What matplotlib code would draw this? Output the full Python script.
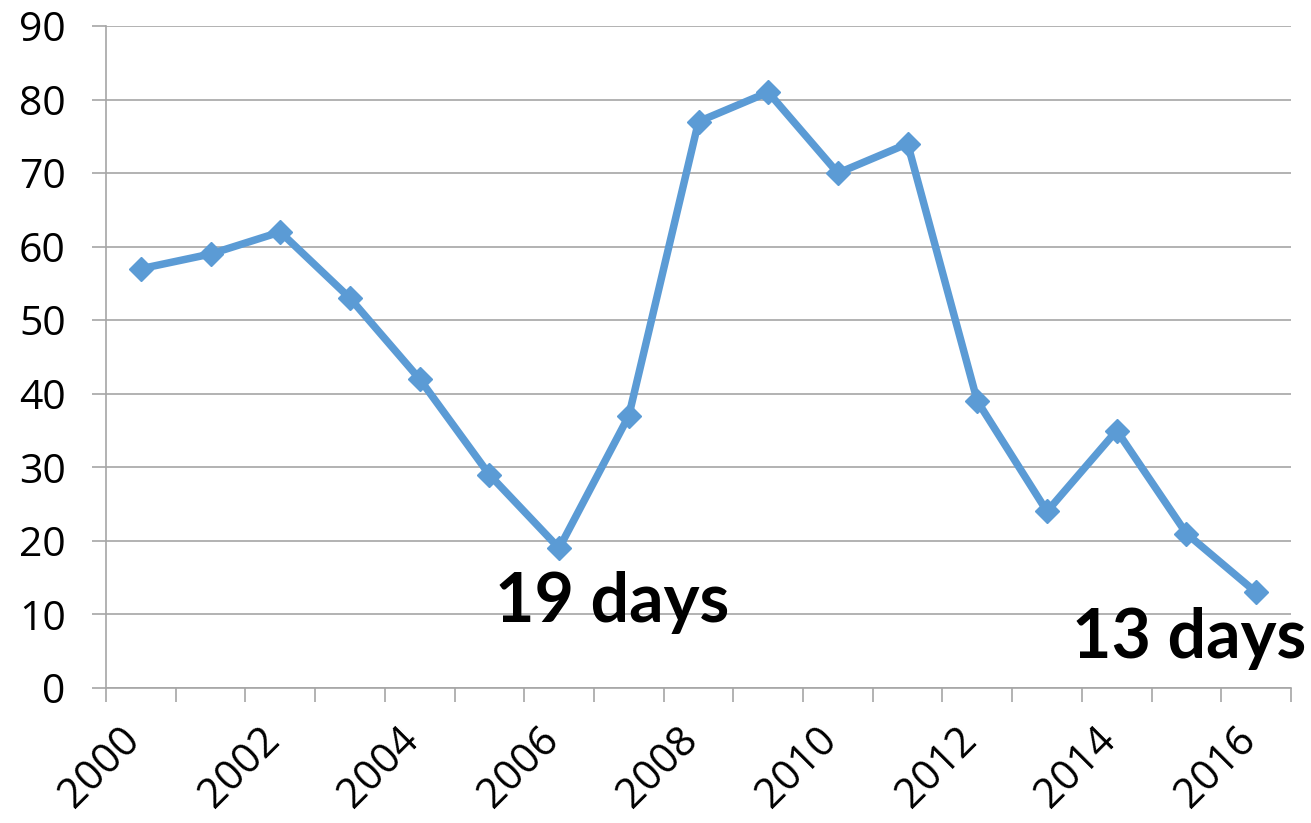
import matplotlib

matplotlib.use("Agg")
import matplotlib.pyplot as plt
import matplotlib.transforms as mtransforms
import numpy as np

# Days per year
years = list(range(2000, 2017))
days = [57, 59, 62, 53, 42, 29, 19, 37, 77, 81, 70, 74, 39, 24, 35, 21, 13]
y_ticks = list(range(0, 100, 10))

LINE_BLUE = "#5B9BD5"
GRID_GREY = "#A6A6A6"

fig = plt.figure(figsize=(13.11, 8.23), dpi=100)
ax = fig.add_axes([106 / 1311, 1 - 688 / 823, (1291 - 106) / 1311, (688 - 26) / 823])

x = np.arange(len(years))
ax.plot(x, days, color=LINE_BLUE, linewidth=5.4, marker="D", markersize=12,
        solid_joinstyle="miter", zorder=3)

ax.set_xlim(-0.5, len(years) - 0.5)
ax.set_ylim(0, 90)

# Category axis: tick marks between categories, labels every other year
ax.set_xticks(np.arange(-0.5, len(years)), labels=[])
ax.set_xticks(x[::2], labels=[str(y) for y in years[::2]], minor=True)
ax.tick_params(axis="x", which="major", length=10, width=1.2, color=GRID_GREY,
               direction="out")
ax.tick_params(axis="x", which="minor", length=0, pad=22)
shift = mtransforms.ScaledTranslation(8 / 100, 0, fig.dpi_scale_trans)
for lbl in ax.get_xticklabels(minor=True):
    lbl.set_rotation(45)
    lbl.set_ha("right")
    lbl.set_fontsize(30)
    lbl.set_family("Open Sans")
    lbl.set_transform(lbl.get_transform() + shift)

ax.set_yticks(y_ticks)
ax.tick_params(axis="y", length=10, width=1.2, color=GRID_GREY, pad=19,
               labelsize=29.5)
for lbl in ax.get_yticklabels():
    lbl.set_family("Open Sans")

ax.grid(axis="y", color=GRID_GREY, linewidth=1.2)
ax.set_axisbelow(True)
for side in ("top", "right"):
    ax.spines[side].set_visible(False)
for side in ("left", "bottom"):
    ax.spines[side].set_color(GRID_GREY)
    ax.spines[side].set_linewidth(1.2)

ax.annotate("19 days", xy=(6, 19), xytext=(53, -74), textcoords="offset pixels",
            ha="center", va="baseline", fontsize=49, fontweight="bold",
            family="Lato")
ax.annotate("13 days", xy=(16, 13), xytext=(-67, -66), textcoords="offset pixels",
            ha="center", va="baseline", fontsize=49, fontweight="bold",
            family="Lato", annotation_clip=False)

fig.savefig("out.png", dpi=100)
